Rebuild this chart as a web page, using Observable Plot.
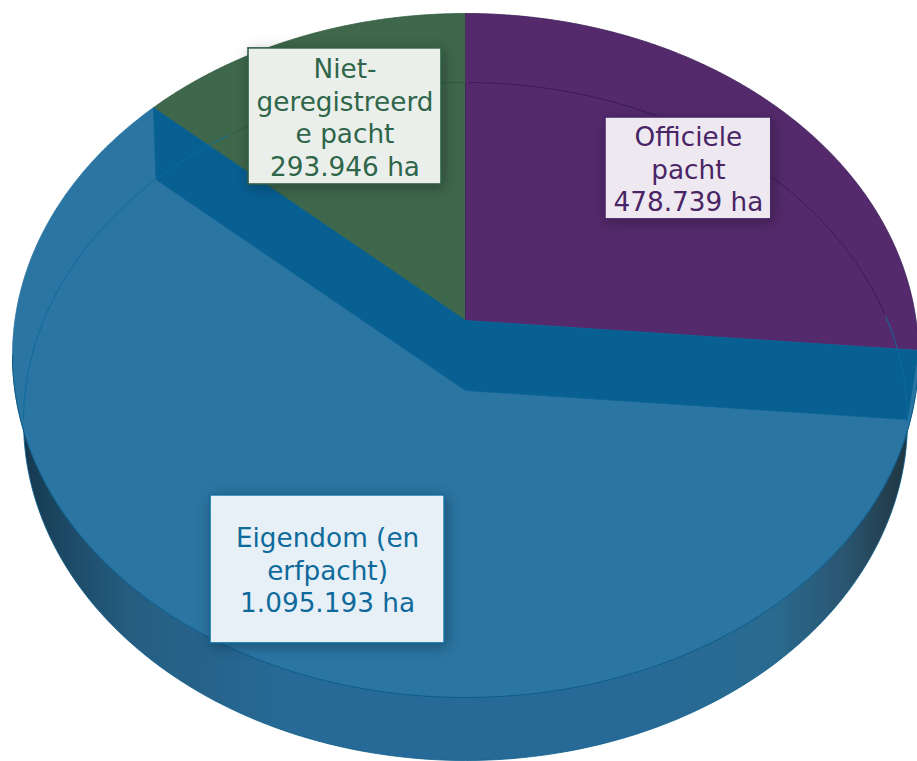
<!DOCTYPE html>
<html>
<head>
<meta charset="utf-8">
<script src="https://cdn.jsdelivr.net/npm/d3@7"></script>
<script src="https://cdn.jsdelivr.net/npm/@observablehq/plot@0.6"></script>
<style>html,body{margin:0;padding:0;background:#fff}svg{display:block}</style>
</head>
<body>
<div id="chart"></div>
<script>
// Data: hectares are the printed labels. sweepShares are the slice spans as read
// from the picture (its perspective does not follow the hectares exactly).
const names = ["Officiele pacht", "Eigendom (en erfpacht)", "Niet-geregistreerde pacht"];
const labelLines = ["Officiele\npacht", "Eigendom (en\nerfpacht)", "Niet-\ngeregistreerd\ne pacht"];
const hectares = [478739, 1095193, 293946];
const sweepShares = [24.76, 63.14, 12.1];

// Styles
const sliceFill = ["#542a6c", "#2b75a3", "#3f674b"];
const sliceLine = ["#3a1a58", "#0d6a9e", "#2f5a3e"];
const labelInk = ["#4a2566", "#0f6a9c", "#2f6548"];
const boxFill = ["#eee9f1", "#e7f0f6", "#eaefec"];
const boxLine = ["#4a2566", "#0f6a9c", "#2f6045"];
const bandFill = "#085f92";

// Geometry in pie units (outer ellipse has radius 1)
const pieY = -0.1023;
const foot = {cy: 0.1930, rx: 0.9757, ry: 0.9912};
const footCentreY = 0.1023;
const labelBoxes = [
  {x1: 0.309, x2: 0.675, y1: -0.696, y2: -0.398},
  {x1: -0.563, x2: -0.046, y1: 0.409, y2: 0.842},
  {x1: -0.479, x2: -0.053, y1: -0.898, y2: -0.500}
];

const fmt = d3.formatLocale({decimal: ",", thousands: ".", grouping: [3], currency: ["", ""]}).format(",d");
const arcs = d3.pie().sort(null).value(d => d)(sweepShares);

const onEllipse = (a, e) => ({x: e.rx * Math.sin(a), y: e.cy - e.ry * Math.cos(a)});
const arcPts = (a0, a1, e) => d3.range(0, 241).map(i => onEllipse(a0 + (a1 - a0) * i / 240, e));
const outer = {cy: 0, rx: 1, ry: 1};
const pieC = {x: 0, y: pieY};
const sector = i => [pieC, ...arcPts(arcs[i].startAngle, arcs[i].endAngle, outer)];

// Where a cut edge, moved down to the lower centre, meets the foot ellipse
function footPoint(a) {
  const p = onEllipse(a, outer);
  const dx = p.x, dy = p.y - pieY;
  const oy = footCentreY - foot.cy;
  const A = (dx / foot.rx) ** 2 + (dy / foot.ry) ** 2;
  const B = 2 * oy * dy / foot.ry ** 2;
  const C = (oy / foot.ry) ** 2 - 1;
  const t = (-B + Math.sqrt(B * B - 4 * A * C)) / (2 * A);
  return {x: t * dx, y: footCentreY + t * dy};
}
const lowerC = {x: 0, y: footCentreY};
const band = [
  pieC, onEllipse(arcs[1].startAngle, outer), footPoint(arcs[1].startAngle), lowerC,
  footPoint(arcs[1].endAngle), onEllipse(arcs[1].endAngle, outer), pieC
];

// Upper half of the foot ellipse, seen through the top faces, split by slice and side
const ring = d3.range(0, 721).map(i => {
  const p = onEllipse(i / 720 * 2 * Math.PI, foot);
  let th = Math.atan2(p.x, -(p.y - pieY));
  if (th < 0) th += 2 * Math.PI;
  const k = arcs.findIndex(s => th >= s.startAngle && th <= s.endAngle);
  const slice = k < 0 ? 0 : k;
  return {...p, slice, part: slice + (p.x > 0 ? "r" : "l")};
}).filter(d => d.y <= foot.cy);

const labels = labelBoxes.map((b, i) => ({
  ...b, i,
  cx: (b.x1 + b.x2) / 2, cy: (b.y1 + b.y2) / 2,
  text: labelLines[i] + "\n" + fmt(hectares[i]) + " ha"
}));

const poly = (pts, fill, stroke, sw = 0.8) =>
  Plot.line(pts, {x: "x", y: "y", fill, stroke, strokeWidth: sw, curve: "linear"});

const defs = () => {
  const d = d3.create("svg:defs");
  const g = d.append("linearGradient").attr("id", "wallGrad")
    .attr("x1", 0).attr("x2", 1).attr("y1", 0).attr("y2", 0);
  [[0, "#16384e"], [0.05, "#1c4a66"], [0.12, "#255d80"], [0.3, "#276a97"],
   [0.7, "#276a97"], [0.85, "#2a6a8f"], [0.93, "#2a5570"], [1, "#203540"]]
    .forEach(([o, c]) => g.append("stop").attr("offset", o).attr("stop-color", c));
  return d.node();
};

const chart = Plot.plot({
  width: 917, height: 761, margin: 0,
  style: {background: "white"},
  x: {domain: [-465 / 453, 452 / 453], range: [0, 917], axis: null},
  y: {domain: [-355 / 342, 406 / 342], range: [0, 761], axis: null},
  marks: [
    defs,
    poly(arcPts(0, 2 * Math.PI, foot), "url(#wallGrad)", "#0f5f8c"),
    poly(sector(1), sliceFill[1], sliceFill[1]),
    poly(sector(2), sliceFill[2], "#2f5a3e"),
    poly(sector(0), sliceFill[0], "#3d2258"),
    poly(band, bandFill, "#0b6596"),
    Plot.line(arcPts(Math.PI / 2, 3 * Math.PI / 2, outer), {
      x: "x", y: "y", stroke: "#0b5c8a", strokeWidth: 1, curve: "linear"
    }),
    Plot.line(ring, {
      x: "x", y: "y", z: "part", stroke: d => sliceLine[d.slice], strokeWidth: 1, curve: "linear"
    }),
    Plot.rect(labels, {
      x1: "x1", x2: "x2", y1: "y1", y2: "y2",
      fill: d => boxFill[d.i],
      stroke: d => boxLine[d.i],
      strokeWidth: 1.6,
      imageFilter: "drop-shadow(2px 3px 7px rgba(0,0,0,0.3))"
    }),
    Plot.text(labels, {
      x: "cx", y: "cy", text: "text",
      fill: d => labelInk[d.i],
      fontFamily: "'DejaVu Sans', Verdana, sans-serif",
      fontSize: 26.3, lineHeight: 1.236, textAnchor: "middle"
    })
  ]
});
document.getElementById("chart").append(chart);
</script>
</body>
</html>
